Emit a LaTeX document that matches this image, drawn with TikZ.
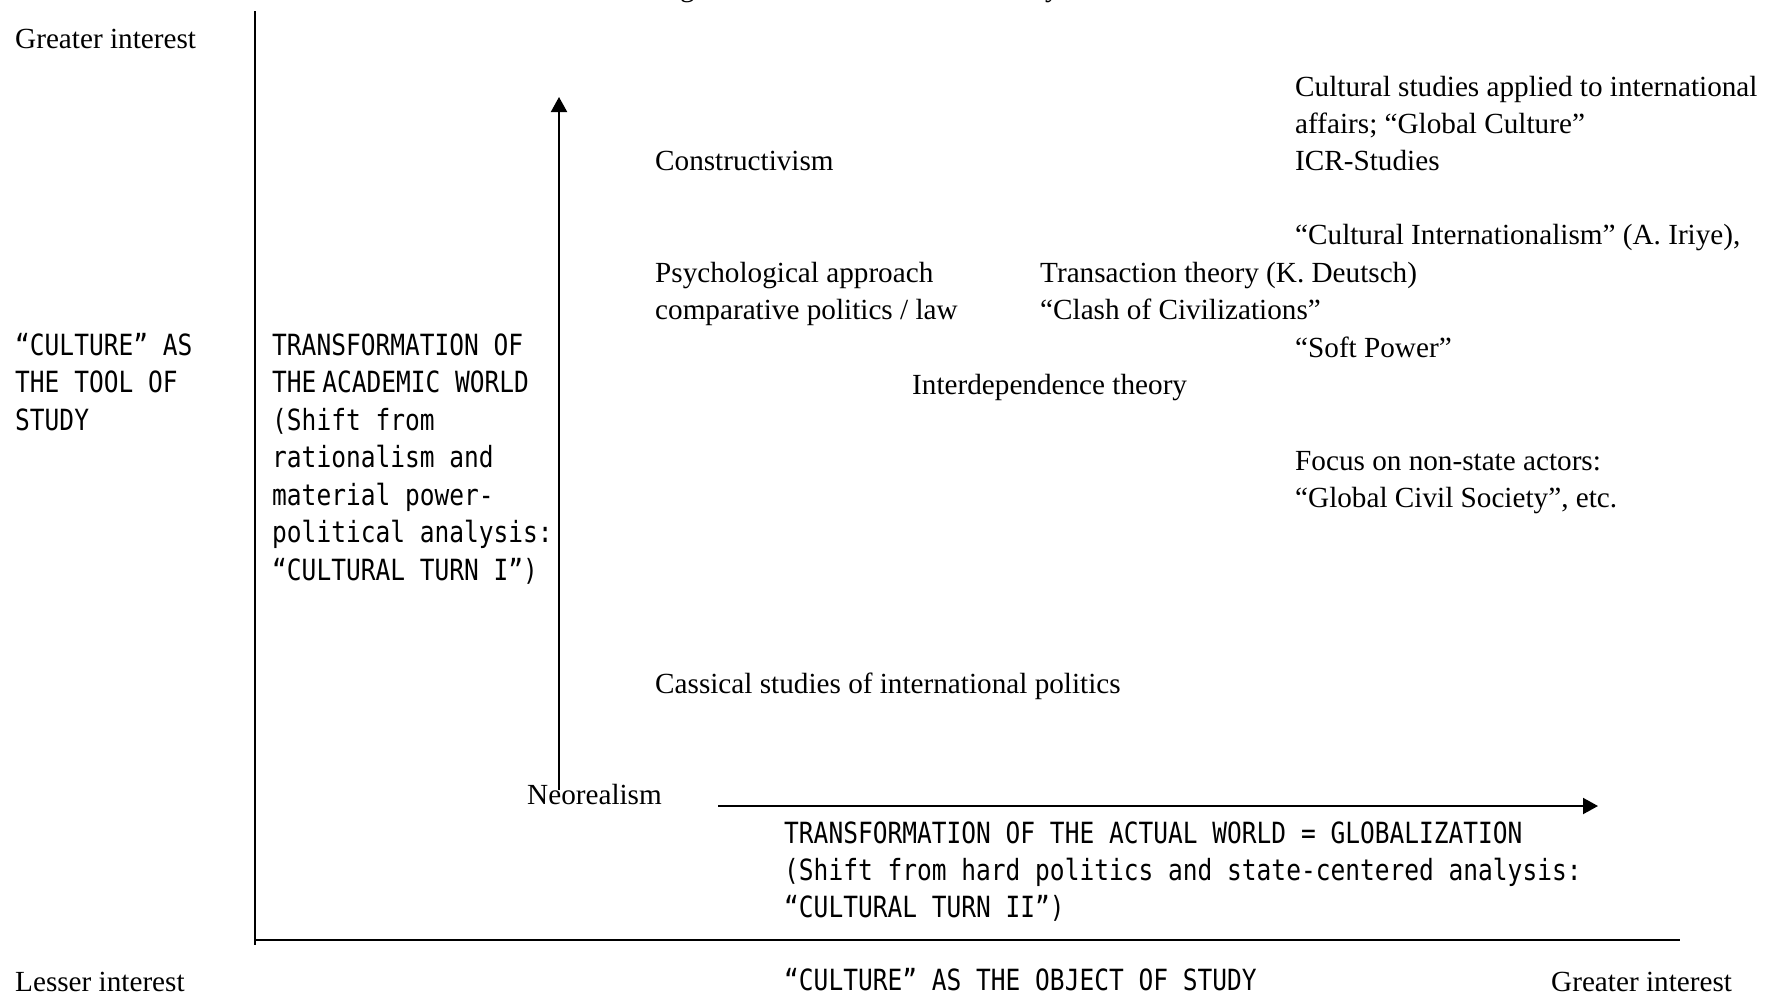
\documentclass[tikz,border=0pt]{standalone}
\usepackage{fontspec}
\setmainfont{Liberation Serif}
\newfontfamily\monofnt[FakeStretch=0.84]{DejaVu Sans Mono}
\usetikzlibrary{arrows.meta}
\tikzset{
  serif/.style={anchor=base west, inner sep=0pt, font=\fontsize{29.2}{35}\selectfont},
  mono/.style={anchor=base west, inner sep=0pt, font=\monofnt\fontsize{29.2}{35}\selectfont},
  axisline/.style={line width=2pt},
  arr/.style={line width=2pt, -{Triangle[length=15pt,width=16pt]}}
}
\begin{document}
\begin{tikzpicture}[x=1pt,y=-1pt]
\useasboundingbox (0,0) rectangle (1776,1001);
% cut-off title fragments at the top edge
\node[serif] (tg) at (680,-3.5) {g};
\node[serif] (ty) at (1045,-3.5) {y};
% axes
\coordinate (ytop) at (255,11);
\coordinate (ybot) at (255,945);
\coordinate (xl) at (255,940);
\coordinate (xr) at (1680,940);
\draw[axisline] (ytop) -- (ybot);
\draw[axisline] (xl) -- (xr);
% inner arrows
\coordinate (ua0) at (559,790);
\coordinate (ua1) at (559,97);
\coordinate (ha0) at (718,806);
\coordinate (ha1) at (1598,806);
\draw[arr] (ua0) -- (ua1);
\draw[arr] (ha0) -- (ha1);
% axis labels
\node[serif] (gi1) at (15,48) {Greater interest};
\node[serif] (li) at (15,991) {Lesser interest};
\node[serif] (gi2) at (1551,991) {Greater interest};
\node[mono] (ct1) at (15,355) {“CULTURE” AS};
\node[mono] (ct2) at (15,392.5) {THE TOOL OF};
\node[mono] (ct3) at (15,430) {STUDY};
\node[mono] (co) at (784,990) {“CULTURE” AS THE OBJECT OF STUDY};
% academic world
\node[mono] (aw1) at (272,355) {TRANSFORMATION OF};
\node[mono] (aw2) at (272,392.5) {THE\hspace{-9pt} ACADEMIC WORLD};
\node[mono] (aw3) at (272,430) {(Shift from};
\node[mono] (aw4) at (272,467) {rationalism and};
\node[mono] (aw5) at (272,505) {material power-};
\node[mono] (aw6) at (272,542) {political analysis:};
\node[mono] (aw7) at (272,580) {“CULTURAL TURN I”)};
% actual world
\node[mono] (gw1) at (784,843) {TRANSFORMATION OF THE ACTUAL WORLD = GLOBALIZATION};
\node[mono] (gw2) at (784,880) {(Shift from hard politics and state-centered analysis:};
\node[mono] (gw3) at (784,917) {“CULTURAL TURN II”)};
% theories
\node[serif] (cs1) at (1295,96) {Cultural studies applied to international};
\node[serif] (cs2) at (1295,133) {affairs; “Global Culture”};
\node[serif] (icr) at (1295,170) {ICR-Studies};
\node[serif] (cons) at (655,170) {Constructivism};
\node[serif] (ci) at (1295,244) {“Cultural Internationalism” (A. Iriye),};
\node[serif] (psy) at (655,282) {Psychological approach};
\node[serif] (cmp) at (655,319) {comparative politics / law};
\node[serif] (tt) at (1040,282) {Transaction theory (K. Deutsch)};
\node[serif] (cc) at (1040,319) {“Clash of Civilizations”};
\node[serif] (sp) at (1295,357) {“Soft Power”};
\node[serif] (it) at (912,394) {Interdependence theory};
\node[serif] (fn1) at (1295,470) {Focus on non-state actors:};
\node[serif] (fn2) at (1295,507) {“Global Civil Society”, etc.};
\node[serif] (cls) at (655,693) {Cassical studies of international politics};
\node[serif] (neo) at (527,804) {Neorealism};
\end{tikzpicture}
\end{document}
